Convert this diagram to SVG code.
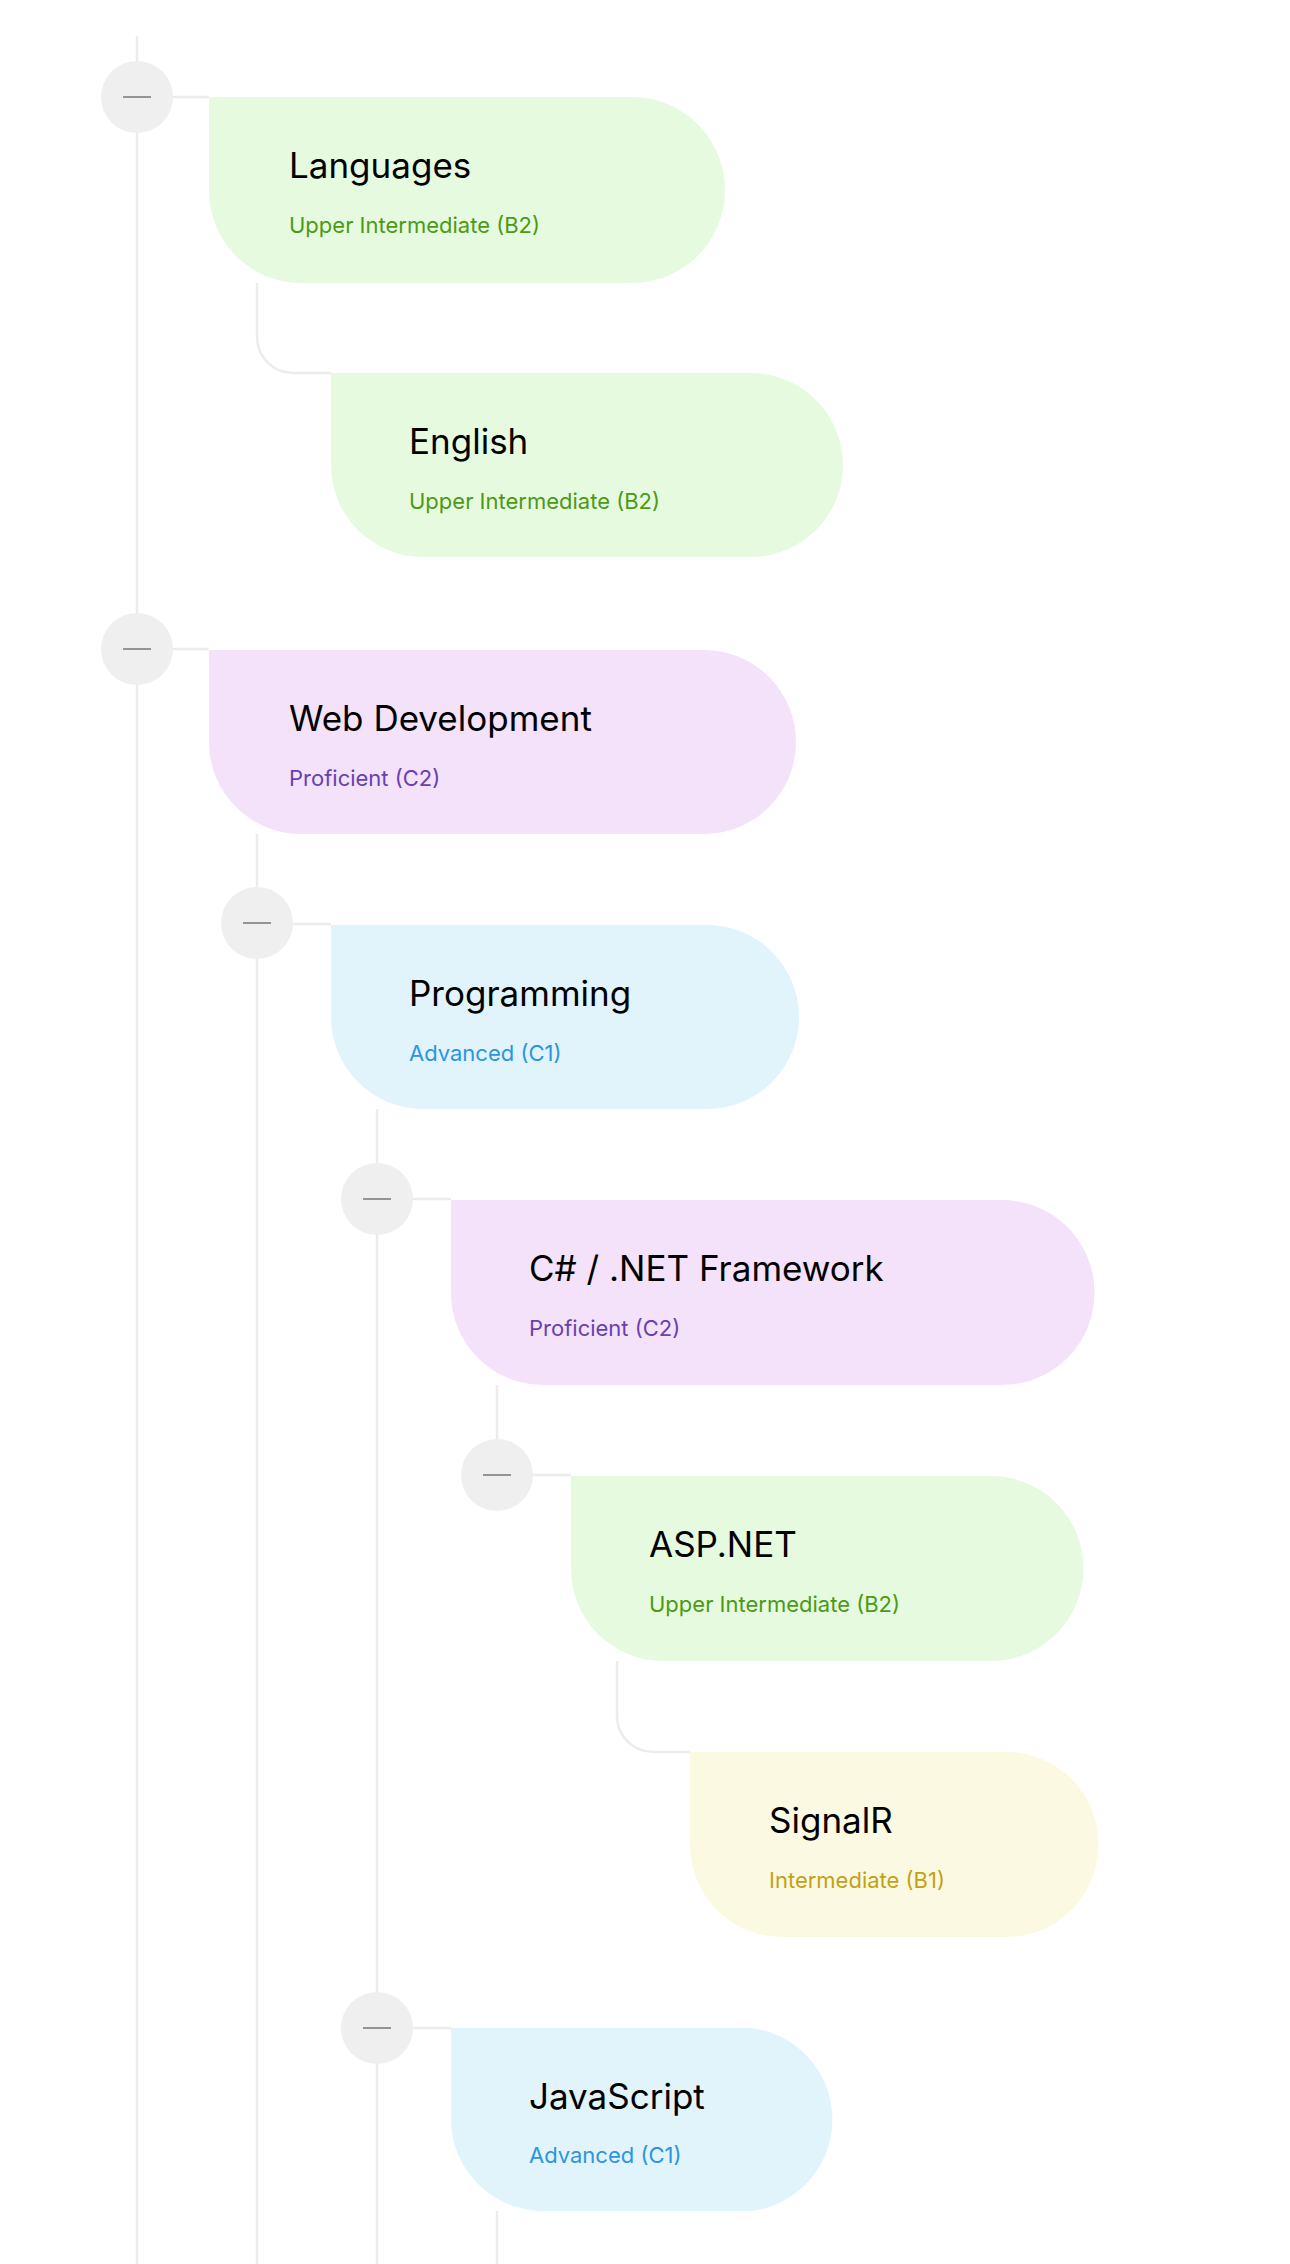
<svg xmlns="http://www.w3.org/2000/svg" width="1290" height="2264" viewBox="0 0 1290 2264">
<style>
.ln{stroke:#ececec;stroke-width:2.5;fill:none}
.tg circle{fill:#efefef}
.tg line{stroke:#8a8a8a;stroke-width:1.8}
.t{font-family:Inter,"Liberation Sans",sans-serif;font-size:35px;fill:#000}
.s{font-family:Inter,"Liberation Sans",sans-serif;font-size:22px}
.g path{fill:#e6fae0}.g .s{fill:#4c9a14}
.p path{fill:#f3e2fa}.p .s{fill:#6a3fb0}
.b path{fill:#e1f3fb}.b .s{fill:#2b96de}
.y path{fill:#fbf9e1}.y .s{fill:#c2a214}
</style>
<rect width="1290" height="2264" fill="#fff"/>
<g id="connectors">
<line class="ln" x1="137" y1="36" x2="137" y2="2264"/>
<line class="ln" x1="137" y1="97" x2="209" y2="97"/>
<line class="ln" x1="137" y1="649" x2="209" y2="649"/>
<path class="ln" d="M257 283 V337 A36 36 0 0 0 293 373 H331"/>
<line class="ln" x1="257" y1="834" x2="257" y2="2264"/>
<line class="ln" x1="257" y1="924" x2="331" y2="924"/>
<line class="ln" x1="377" y1="1109" x2="377" y2="2264"/>
<line class="ln" x1="377" y1="1199" x2="451" y2="1199"/>
<line class="ln" x1="377" y1="2028" x2="451" y2="2028"/>
<line class="ln" x1="497" y1="1385" x2="497" y2="1475"/>
<line class="ln" x1="497" y1="1475" x2="571" y2="1475"/>
<path class="ln" d="M617 1661 V1716 A36 36 0 0 0 653 1752 H690"/>
<line class="ln" x1="497" y1="2211" x2="497" y2="2264"/>
</g>
<g id="toggles">
<g class="tg"><circle cx="137" cy="97" r="36"/><line x1="123" y1="97" x2="151" y2="97"/></g>
<g class="tg"><circle cx="137" cy="649" r="36"/><line x1="123" y1="649" x2="151" y2="649"/></g>
<g class="tg"><circle cx="257" cy="923" r="36"/><line x1="243" y1="923" x2="271" y2="923"/></g>
<g class="tg"><circle cx="377" cy="1199" r="36"/><line x1="363" y1="1199" x2="391" y2="1199"/></g>
<g class="tg"><circle cx="497" cy="1475" r="36"/><line x1="483" y1="1475" x2="511" y2="1475"/></g>
<g class="tg"><circle cx="377" cy="2028" r="36"/><line x1="363" y1="2028" x2="391" y2="2028"/></g>
</g>
<g id="n-languages" class="g"><path d="M209 97 H632 A92 92 0 0 1 632 283 H301 A92 92 0 0 1 209 191 Z"/><text class="t" x="289" y="178">Languages</text><text class="s" x="289" y="233">Upper Intermediate (B2)</text></g>
<g id="n-english" class="g"><path d="M331 373 H751 A92 92 0 0 1 751 557 H423 A92 92 0 0 1 331 465 Z"/><text class="t" x="409" y="454">English</text><text class="s" x="409" y="509">Upper Intermediate (B2)</text></g>
<g id="n-webdev" class="p"><path d="M209 650 H704 A92 92 0 0 1 704 834 H301 A92 92 0 0 1 209 742 Z"/><text class="t" x="289" y="731">Web Development</text><text class="s" x="289" y="786">Proficient (C2)</text></g>
<g id="n-programming" class="b"><path d="M331 925 H707 A92 92 0 0 1 707 1109 H423 A92 92 0 0 1 331 1017 Z"/><text class="t" x="409" y="1006">Programming</text><text class="s" x="409" y="1061">Advanced (C1)</text></g>
<g id="n-csharp" class="p"><path d="M451 1200 H1002 A92 92 0 0 1 1002 1385 H543 A92 92 0 0 1 451 1293 Z"/><text class="t" x="529" y="1281">C# / .NET Framework</text><text class="s" x="529" y="1336">Proficient (C2)</text></g>
<g id="n-aspnet" class="g"><path d="M571 1476 H991 A92 92 0 0 1 991 1661 H663 A92 92 0 0 1 571 1569 Z"/><text class="t" x="649" y="1557">ASP.NET</text><text class="s" x="649" y="1612">Upper Intermediate (B2)</text></g>
<g id="n-signalr" class="y"><path d="M690 1752 H1006 A92 92 0 0 1 1006 1937 H782 A92 92 0 0 1 690 1845 Z"/><text class="t" x="769" y="1833">SignalR</text><text class="s" x="769" y="1888">Intermediate (B1)</text></g>
<g id="n-javascript" class="b"><path d="M451 2028 H750 A92 92 0 0 1 750 2211 H543 A92 92 0 0 1 451 2119 Z"/><text class="t" x="529" y="2109">JavaScript</text><text class="s" x="529" y="2163">Advanced (C1)</text></g>
</svg>
